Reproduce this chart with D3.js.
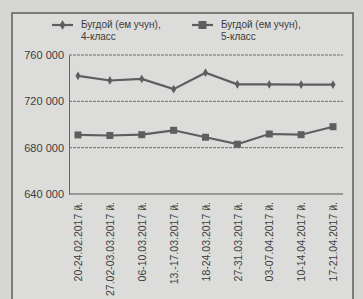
<!DOCTYPE html>
<html><head><meta charset="utf-8">
<script src="https://cdn.jsdelivr.net/npm/d3@7"></script>
<style>body{margin:0;background:#d6d6d3;}svg{display:block;}</style>
</head><body>
<script>
const categories = ["20-24.02.2017 й.","27.02-03.03.2017 й.","06-10.03.2017 й.","13.-17.03.2017 й.","18-24.03.2017 й.","27-31.03.2017 й.","03-07.04.2017 й.","10-14.04.2017 й.","17-21.04.2017 й."];
const series4 = [742000,738000,739300,730500,744700,734700,734600,734500,734500];
const series5 = [691000,690500,691200,695000,689000,683000,691800,691200,698100];
const yTicks = [640000,680000,720000,760000];
const seriesNames = ["Бугдой (ем учун),\n4-класс","Бугдой (ем учун),\n5-класс"];

const W=363,H=299;
const svg=d3.select("body").append("svg").attr("width",W).attr("height",H);
svg.append("rect").attr("width",W).attr("height",H).attr("fill","#d6d6d3");
svg.append("rect").attr("x",12).attr("y",13).attr("width",341).attr("height",300).attr("fill","#dcdcda").attr("stroke","#555").attr("stroke-width",1.4);

const x=d3.scalePoint().domain(categories).range([78,333]);
const y=d3.scaleLinear().domain([640000,760000]).range([194,55]);
const col="#5e5e5e", txt="#3c3c3c";
const fmt=d=>d3.format(",")(d).replace(/,/g," ");

svg.selectAll(".g").data(yTicks.filter(d=>d>640000)).enter().append("line")
 .attr("x1",69).attr("x2",343).attr("y1",d=>y(d)).attr("y2",d=>y(d))
 .attr("stroke","#6a6a6a").attr("stroke-width",1).attr("stroke-dasharray","3,1");
const yAxis=svg.append("g").attr("transform","translate(69,0)").call(d3.axisLeft(y).tickValues(yTicks).tickFormat(fmt).tickSize(0).tickPadding(5));
yAxis.select(".domain").attr("stroke","#666");
yAxis.selectAll("text").attr("fill",txt).style("font-family","Liberation Sans, Arial").style("font-size","11px");
const xAxis=svg.append("g").attr("transform","translate(0,194)").call(d3.axisBottom(x).tickSize(0).tickPadding(0));
xAxis.select(".domain").attr("d","M69,0H343").attr("stroke","#555");
xAxis.selectAll("text").attr("fill",txt).style("font-family","Liberation Sans, Arial").style("font-size","10.5px")
 .attr("transform","rotate(-90)").attr("text-anchor","end").attr("x",-8).attr("y",0).attr("dy","0.35em").attr("dx",0);

const line=d3.line().x((d,i)=>x(categories[i])).y(d=>y(d)).curve(d3.curveLinear);
[series4,series5].forEach(s=>{
 svg.append("path").attr("d",line(s)).attr("fill","none").attr("stroke",col).attr("stroke-width",2.2);
});
svg.selectAll(".m4").data(series4).enter().append("path")
 .attr("d",d3.symbol(d3.symbolDiamond,22)()).attr("transform",(d,i)=>`translate(${x(categories[i])},${y(d)})`).attr("fill",col);
svg.selectAll(".m5").data(series5).enter().append("rect")
 .attr("x",(d,i)=>x(categories[i])-3.5).attr("y",d=>y(d)-3.5).attr("width",7).attr("height",7).attr("fill",col);

const lg=[{x:52,t:seriesNames[0],sym:"d"},{x:192,t:seriesNames[1],sym:"s"}];
lg.forEach(l=>{
 svg.append("line").attr("x1",l.x).attr("x2",l.x+21).attr("y1",25).attr("y2",25).attr("stroke",col).attr("stroke-width",2.2);
 if(l.sym==="d") svg.append("path").attr("d",d3.symbol(d3.symbolDiamond,28)()).attr("transform",`translate(${l.x+10.5},25)`).attr("fill",col);
 else svg.append("rect").attr("x",l.x+6.5).attr("y",21).attr("width",8).attr("height",8).attr("fill",col);
 const t=svg.append("text").attr("x",l.x+29).attr("y",28).attr("fill",txt).style("font-family","Liberation Sans, Arial").style("font-size","10px");
 l.t.split("\n").forEach((s,i)=>t.append("tspan").attr("x",l.x+29).attr("dy",i?12:0).text(s));
});
</script>
</body></html>
